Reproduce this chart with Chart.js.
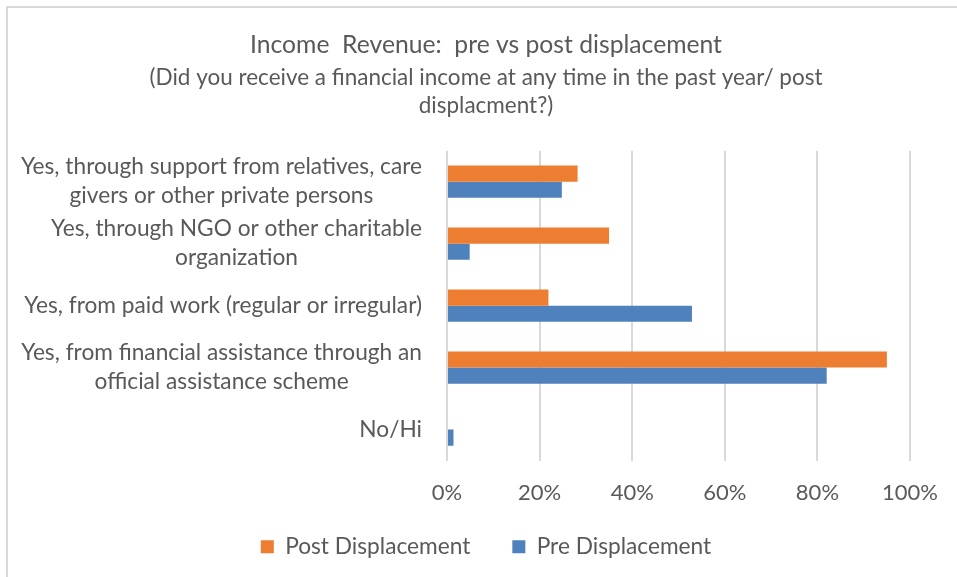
<!DOCTYPE html>
<html>
<head>
<meta charset="utf-8">
<script src="https://cdn.jsdelivr.net/npm/chart.js@4.4.1/dist/chart.umd.min.js"></script>
<style>
    html, body { margin: 0; padding: 0; background: #fff; }
    #wrap { position: relative; width: 957px; height: 577px; overflow: hidden; }
    #frame { position: absolute; left: 6px; top: 6px; width: 1000px; height: 1000px;
             border-left: 2px solid #d9d9d9; border-top: 2px solid #d9d9d9; pointer-events: none; }
</style>
</head>
<body>
<div id="wrap">
    <canvas id="chart" width="957" height="577"></canvas>
    <div id="frame"></div>
</div>
<script>
const categories = [
    ['Yes, through support from relatives, care', 'givers or other private persons'],
    ['Yes, through NGO or other charitable', 'organization'],
    ['Yes, from paid work (regular or irregular)'],
    ['Yes, from financial assistance through an', 'official assistance scheme'],
    ['No/Hi']
];
const postDisplacement = [28.2, 35.0, 21.9, 95.0, 0];
const preDisplacement = [24.8, 4.9, 52.9, 82.0, 1.4];
const xTicks = [0, 20, 40, 60, 80, 100];

const FONT = 'Lato';
const TEXT = '#595959';
const LABEL_SIZE = 22.7;

// Excel centres the lines of a wrapped label on each other and right-aligns the block
const categoryLabels = {
    id: 'categoryLabels',
    afterDraw(chart) {
        const s = chart.scales.y;
        const ctx = chart.ctx;
        ctx.save();
        ctx.font = LABEL_SIZE + 'px ' + FONT;
        ctx.fillStyle = TEXT;
        ctx.textAlign = 'center';
        ctx.textBaseline = 'middle';
        const lineH = 29;
        categories.forEach((lines, i) => {
            const cy = s.getPixelForTick(i);
            const w = Math.max(...lines.map(l => ctx.measureText(l).width));
            const cx = s.right - 25 - w / 2;
            lines.forEach((l, j) => ctx.fillText(l, cx, cy + (j - (lines.length - 1) / 2) * lineH));
        });
        ctx.restore();
    }
};

new Chart(document.getElementById('chart'), {
    type: 'bar',
    data: {
        labels: categories,
        datasets: [
            { label: 'Post Displacement', data: postDisplacement, backgroundColor: '#ED7D31' },
            { label: 'Pre Displacement', data: preDisplacement, backgroundColor: '#4F81BD' }
        ]
    },
    options: {
        indexAxis: 'y',
        responsive: false,
        animation: false,
        datasets: { bar: { categoryPercentage: 0.52, barPercentage: 1.0 } },
        layout: { padding: { left: 61, right: 46, top: 0, bottom: 9 } },
        scales: {
            x: {
                min: 0, max: 100,
                afterBuildTicks: scale => { scale.ticks = xTicks.map(v => ({ value: v })); },
                afterFit: scale => { scale.height = 46; },
                grid: { color: '#d9d9d9', lineWidth: 2, drawTicks: false },
                border: { display: false },
                ticks: { color: TEXT, font: { family: FONT, size: 22 }, padding: 19, callback: v => v + '%' }
            },
            y: {
                grid: { display: false },
                border: { display: false },
                ticks: { display: false },
                afterFit: scale => { scale.width = 447 - 61; }
            }
        },
        plugins: {
            title: {
                display: true,
                text: 'Income  Revenue:  pre vs post displacement',
                color: TEXT,
                font: { family: FONT, size: 24.7, weight: 'normal', lineHeight: 1.2 },
                padding: { top: 30, bottom: 0 }
            },
            subtitle: {
                display: true,
                text: ['(Did you receive a financial income at any time in the past year/ post', 'displacment?)'],
                color: TEXT,
                font: { family: FONT, size: 22.5, lineHeight: 1.245 },
                padding: { top: 4, bottom: 31 }
            },
            legend: {
                position: 'bottom',
                maxHeight: 70,
                // the wide item gap (padding) also pads vertically; an empty title with negative padding takes that back
                title: { display: true, text: '', font: { size: 1 }, padding: { top: -14.5, bottom: 0 } },
                labels: {
                    color: TEXT,
                    font: { family: FONT, size: LABEL_SIZE },
                    boxWidth: 13, boxHeight: 13,
                    padding: 42
                }
            },
            tooltip: { enabled: false }
        }
    },
    plugins: [categoryLabels]
});
</script>
</body>
</html>
